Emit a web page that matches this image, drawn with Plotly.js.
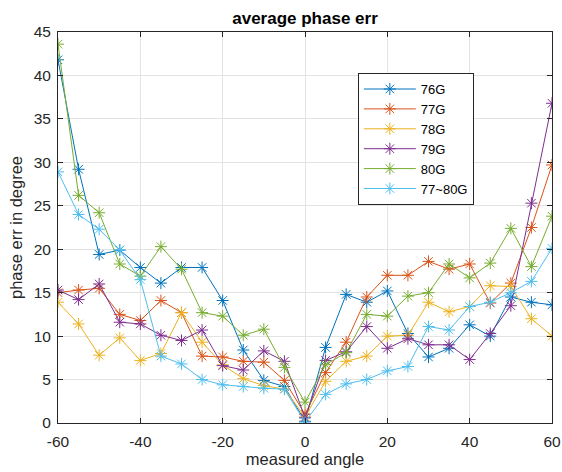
<!DOCTYPE html>
<html>
<head>
<meta charset="utf-8">
<script src="https://cdn.plot.ly/plotly-3.0.1.min.js"></script>
<style>html,body{margin:0;padding:0;background:#fff;}#chart{width:562px;height:472px;}</style>
</head>
<body>
<div id="chart"></div>
<script>
const angles = [-60,-55,-50,-45,-40,-35,-30,-25,-20,-15,-10,-5,0,5,10,15,20,25,30,35,40,45,50,55,60];
const seriesNames = ['76G','77G','78G','79G','80G','77~80G'];
const err76G = [41.8,29.2,19.4,19.9,17.9,16.1,17.9,17.9,14.1,8.4,4.9,4.2,0.2,8.7,14.8,13.9,15.2,10.3,7.6,8.6,11.3,10.0,14.5,13.9,13.6];
const err77G = [15.0,15.3,15.5,12.5,11.8,14.1,12.7,7.7,7.6,7.1,7.0,4.9,1.0,5.8,9.3,14.5,17.0,17.0,18.6,17.7,18.3,13.8,16.1,22.5,29.7];
const err78G = [13.9,11.4,7.8,9.8,7.2,8.0,12.7,9.3,6.7,5.1,4.3,3.9,0.7,4.8,7.1,7.7,10.0,10.1,13.9,12.8,13.4,15.8,15.7,12.0,10.0];
const err79G = [15.3,14.2,16.0,11.6,11.4,10.1,9.5,10.7,6.6,6.1,8.3,7.1,0.6,7.2,8.2,11.1,8.6,9.7,9.0,9.0,7.3,10.3,13.5,25.3,36.8];
const err80G = [43.6,26.2,24.2,18.3,16.9,20.3,17.7,12.7,12.3,10.1,10.8,6.4,2.4,6.7,8.1,12.5,12.3,14.6,15.0,18.3,16.7,18.4,22.4,18.0,23.8];
const err77to80G = [28.9,24.0,22.3,19.9,16.5,7.7,6.8,5.0,4.4,4.2,4.0,3.9,0.1,3.3,4.5,5.0,6.0,6.5,11.1,10.7,13.4,13.9,15.0,16.3,20.1];
const xTicks = [-60,-40,-20,0,20,40,60];
const xTickText = ['-60','-40','-20','0','20','40','60'];
const yTicks = [0,5,10,15,20,25,30,35,40,45];
const yTickText = ['0','5','10','15','20','25','30','35','40','45'];

const colors = ['#0072BD','#D95319','#EDB120','#7E2F8E','#77AC30','#4DBEEE'];
const allSeries = [err76G, err77G, err78G, err79G, err80G, err77to80G];
const FONT = 'Liberation Sans, Arial, sans-serif';

const traces = allSeries.map((ys, i) => ({
  x: angles, y: ys, name: seriesNames[i], type: 'scatter', mode: 'lines+markers',
  line: {color: colors[i], width: 1},
  marker: {symbol: 'asterisk-open', size: 10, color: colors[i], line: {color: colors[i], width: 1}}
}));

const axisCommon = {
  showline: true, linecolor: '#262626', linewidth: 1, mirror: 'ticks',
  ticks: 'inside', ticklen: 5, tickcolor: '#262626',
  showgrid: true, gridcolor: '#e3e3e3', gridwidth: 1, zeroline: false,
  tickfont: {family: FONT, size: 15.5, color: '#262626'}
};

const layout = {
  width: 562, height: 472,
  margin: {l: 58, r: 10, t: 32, b: 49},
  paper_bgcolor: '#ffffff', plot_bgcolor: '#ffffff',
  showlegend: true,
  title: {text: '<b>average phase err</b>', x: 0.5, xref: 'paper', y: 0.961, yref: 'container', yanchor: 'middle',
          font: {family: FONT, size: 17, color: '#000'}},
  xaxis: Object.assign({}, axisCommon, {
    range: [-60, 60], tickvals: xTicks, ticktext: xTickText, ticklabelstandoff: 4,
    title: {text: 'measured angle', standoff: 3, font: {family: FONT, size: 16.5, color: '#262626'}}
  }),
  yaxis: Object.assign({}, axisCommon, {
    range: [0, 45], tickvals: yTicks, ticktext: yTickText, ticklabelstandoff: 3,
    title: {text: 'phase err in degree', standoff: 6, font: {family: FONT, size: 16.5, color: '#262626'}}
  }),
  legend: {
    x: 0.607, y: 0.895, xanchor: 'left', yanchor: 'top',
    bgcolor: '#ffffff', bordercolor: '#262626', borderwidth: 1,
    font: {family: FONT, size: 13, color: '#000'},
    itemwidth: 52, tracegroupgap: 0
  }
};

Plotly.newPlot('chart', traces, layout, {displayModeBar: false, staticPlot: true});
</script>
</body>
</html>
